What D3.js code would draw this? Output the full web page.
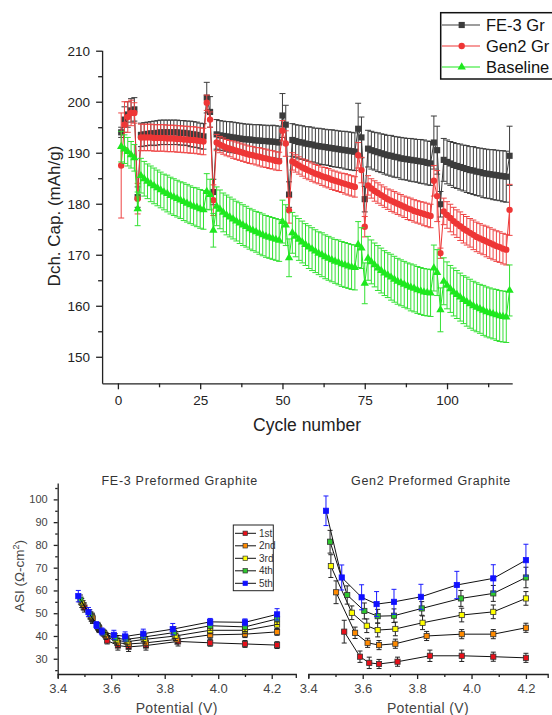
<!DOCTYPE html>
<html>
<head>
<meta charset="utf-8">
<script src="https://cdn.jsdelivr.net/npm/d3@7"></script>
<style>
  body { margin: 0; background: #fff; }
  svg { display: block; font-family: Arial, "Liberation Sans", sans-serif; }
</style>
</head>
<body>
<svg id="chart" width="552" height="715"></svg>
<script>
// ---- top chart: discharge capacity vs cycle ----
var cycles = [1,2,3,4,5,6,7,8,9,10,11,12,13,14,15,16,17,18,19,20,
  21,22,23,24,25,26,27,28,29,30,31,32,33,34,35,36,37,38,39,40,
  41,42,43,44,45,46,47,48,49,50,51,52,53,54,55,56,57,58,59,60,
  61,62,63,64,65,66,67,68,69,70,71,72,73,74,75,76,77,78,79,80,
  81,82,83,84,85,86,87,88,89,90,91,92,93,94,95,96,97,98,99,100,
  101,102,103,104,105,106,107,108,109,110,111,112,113,114,115,116,117,118,119];

var fe3Cap = [194.0,196.5,197.5,198.3,198.5,181.3,
  193.5,193.6,193.7,193.8,193.8,193.9,194.0,194.0,194.0,194.0,194.0,194.0,193.9,193.9,193.8,193.7,193.6,193.5,193.3,193.2,
  200.8,198.0,182.3,
  193.6,193.4,193.3,193.2,193.1,193.0,192.9,192.8,192.7,192.6,192.6,192.5,192.4,192.4,192.3,192.3,192.2,192.2,192.1,192.0,
  197.3,195.5,181.8,
  192.5,192.3,192.1,192.0,191.8,191.7,191.6,191.4,191.3,191.2,191.1,191.0,190.9,190.8,190.7,190.6,190.5,190.4,190.3,190.2,
  194.7,193.0,180.9,
  190.8,190.5,190.3,190.1,189.9,189.7,189.5,189.4,189.2,189.1,188.9,188.8,188.7,188.6,188.5,188.4,188.3,188.2,188.0,187.9,
  192.0,190.5,179.9,
  188.6,188.2,187.9,187.6,187.4,187.2,187.0,186.8,186.6,186.5,186.3,186.2,186.0,185.9,185.8,185.7,185.6,185.5,185.4,185.3,
  189.4];
var fe3Err = [1.0,2.5,2.5,2.3,2.3,2.0,
  2.3,2.3,2.3,2.3,2.4,2.4,2.4,2.4,2.4,2.4,2.4,2.4,2.4,2.4,2.4,2.5,2.5,2.5,2.5,2.5,
  3.0,3.0,2.5,
  2.9,2.9,2.9,2.9,3.0,3.0,3.0,3.0,3.0,3.0,3.0,3.0,3.1,3.1,3.1,3.1,3.1,3.2,3.2,3.2,
  4.3,3.8,2.5,
  3.2,3.2,3.3,3.3,3.3,3.4,3.4,3.4,3.5,3.5,3.5,3.5,3.6,3.6,3.6,3.6,3.7,3.7,3.7,3.7,
  5.0,4.0,2.5,
  3.6,3.7,3.7,3.8,3.8,3.9,3.9,4.0,4.0,4.0,4.1,4.1,4.1,4.2,4.2,4.2,4.3,4.3,4.3,4.3,
  5.2,4.7,2.5,
  4.2,4.3,4.3,4.4,4.4,4.5,4.5,4.6,4.6,4.7,4.7,4.7,4.8,4.8,4.8,4.9,4.9,4.9,5.0,5.0,
  5.8];

var gen2Cap = [187.5,195.5,197.0,197.8,197.8,181.0,
  193.0,193.0,193.0,193.0,192.9,192.9,192.9,192.9,192.8,192.8,192.8,192.7,192.7,192.6,192.6,192.5,192.5,192.4,192.3,192.2,
  199.8,196.5,180.7,
  192.0,191.6,191.3,191.0,190.8,190.6,190.4,190.2,190.0,189.8,189.6,189.5,189.3,189.2,189.0,188.9,188.7,188.6,188.4,188.3,
  194.3,191.8,178.7,
  188.3,187.9,187.5,187.1,186.8,186.5,186.2,185.9,185.7,185.4,185.2,185.0,184.7,184.5,184.3,184.1,183.9,183.7,183.5,183.3,
  189.5,186.6,175.5,
  183.6,183.0,182.5,182.1,181.7,181.3,180.9,180.6,180.3,180.0,179.7,179.4,179.1,178.9,178.6,178.4,178.2,178.0,177.8,177.6,
  184.5,181.5,170.3,
  178.5,177.8,177.2,176.6,176.1,175.6,175.1,174.7,174.3,173.9,173.5,173.2,172.9,172.6,172.3,172.0,171.7,171.5,171.2,171.0,
  178.8];
var gen2Err = [10.3,4.5,3.0,2.5,2.0,3.0,
  2.6,2.6,2.6,2.6,2.6,2.6,2.6,2.6,2.6,2.6,2.6,2.6,2.6,2.6,2.6,2.6,2.6,2.6,2.6,2.6,
  1.5,1.5,3.0,
  1.6,1.6,1.6,1.6,1.6,1.7,1.7,1.7,1.7,1.7,1.7,1.7,1.7,1.8,1.8,1.8,1.8,1.8,1.8,1.8,
  2.0,2.5,2.5,
  1.7,1.7,1.7,1.7,1.8,1.8,1.8,1.8,1.8,1.8,1.9,1.9,1.9,1.9,1.9,1.9,2.0,2.0,2.0,2.0,
  2.5,2.5,2.0,
  1.9,1.9,2.0,2.0,2.0,2.0,2.0,2.1,2.1,2.1,2.1,2.1,2.2,2.2,2.2,2.2,2.2,2.3,2.3,2.3,
  3.0,5.0,1.0,
  2.6,2.6,2.7,2.7,2.7,2.8,2.8,2.8,2.8,2.9,2.9,2.9,2.9,3.0,3.0,3.0,3.0,3.0,3.0,3.0,
  5.0];

var baseCap = [191.2,190.7,190.2,189.6,189.0,179.0,
  185.5,184.9,184.4,183.9,183.5,183.1,182.7,182.3,182.0,181.6,181.3,181.0,180.7,180.4,180.1,179.8,179.5,179.3,179.0,178.8,
  182.4,181.8,174.8,
  179.5,178.9,178.3,177.8,177.4,177.0,176.6,176.2,175.8,175.5,175.1,174.8,174.5,174.2,173.9,173.6,173.4,173.2,173.0,172.8,
  176.5,175.8,169.4,
  174.3,173.6,173.0,172.5,172.0,171.5,171.1,170.7,170.3,170.0,169.6,169.3,169.0,168.7,168.5,168.2,168.0,167.8,167.6,167.5,
  172.0,171.3,164.4,
  169.3,168.6,168.0,167.4,166.9,166.4,166.0,165.6,165.2,164.8,164.5,164.2,163.9,163.6,163.4,163.1,162.9,162.7,162.6,162.5,
  167.4,166.5,159.2,
  164.8,164.0,163.3,162.7,162.2,161.7,161.2,160.8,160.4,160.0,159.7,159.4,159.1,158.8,158.6,158.4,158.2,158.0,157.9,157.8,
  163.0];
var baseErr = [3.0,2.8,2.8,2.6,2.6,3.3,
  3.4,3.4,3.4,3.5,3.5,3.5,3.5,3.5,3.6,3.6,3.6,3.6,3.6,3.7,3.7,3.7,3.7,3.8,3.8,3.8,
  3.5,3.0,3.3,
  3.8,3.8,3.8,3.9,3.9,3.9,3.9,4.0,4.0,4.0,4.0,4.0,4.0,4.1,4.1,4.1,4.1,4.1,4.1,4.1,
  4.2,4.0,3.7,
  4.0,4.0,4.1,4.1,4.1,4.2,4.2,4.2,4.2,4.3,4.3,4.3,4.3,4.3,4.4,4.4,4.4,4.4,4.4,4.4,
  4.5,4.0,4.0,
  4.3,4.3,4.3,4.4,4.4,4.4,4.4,4.5,4.5,4.5,4.5,4.5,4.5,4.6,4.6,4.6,4.6,4.6,4.6,4.6,
  4.5,4.5,4.3,
  4.6,4.6,4.6,4.7,4.7,4.7,4.7,4.8,4.8,4.8,4.8,4.8,4.9,4.9,4.9,4.9,5.0,5.0,5.0,5.0,
  5.0];

var topNames = ["FE-3 Gr", "Gen2 Gr", "Baseline"];
var cycleTicks = [0, 25, 50, 75, 100];
var capTicks = [150, 160, 170, 180, 190, 200, 210];

// ---- bottom charts: ASI vs potential ----
var cycleLabels = ["1st", "2nd", "3rd", "4th", "5th"];

var fe3V1 = [3.50,3.53,3.555,3.585,3.625,3.665,3.73,3.85,3.97,4.10,4.22];
var fe3A1 = [52.5,47.5,43.0,38.0,35.8,35.2,35.8,37.6,37.0,36.5,36.0];
var fe3E1 = [2.0,2.0,1.5,1.5,2.0,2.0,2.0,2.0,1.5,1.5,1.5];
var fe3V2 = [3.495,3.53,3.555,3.58,3.625,3.665,3.73,3.845,3.97,4.10,4.22];
var fe3A2 = [53.5,48.0,43.5,40.0,37.0,36.5,37.0,38.5,40.5,40.8,41.8];
var fe3E2 = [2.0,2.0,1.5,1.5,2.0,2.0,2.0,2.0,1.5,1.5,1.5];
var fe3V3 = [3.49,3.525,3.55,3.575,3.62,3.66,3.725,3.84,3.97,4.10,4.22];
var fe3A3 = [54.5,48.5,44.0,41.0,38.0,37.5,38.5,40.0,42.5,42.5,45.0];
var fe3E3 = [2.0,2.0,1.5,1.5,2.0,2.0,2.0,2.0,1.5,1.5,2.0];
var fe3V4 = [3.485,3.52,3.55,3.57,3.615,3.655,3.72,3.835,3.97,4.10,4.22];
var fe3A4 = [56.0,49.5,44.5,41.5,39.0,38.5,39.5,41.5,44.5,44.0,47.5];
var fe3E4 = [2.0,2.0,1.5,1.5,2.0,2.0,2.0,2.5,2.0,2.0,2.5];
var fe3V5 = [3.477,3.515,3.545,3.565,3.61,3.652,3.72,3.83,3.97,4.10,4.22];
var fe3A5 = [57.5,50.5,44.8,42.0,40.5,39.8,41.0,43.0,46.2,46.0,49.5];
var fe3E5 = [2.5,2.0,1.5,1.5,2.0,2.0,2.0,2.5,1.5,1.5,2.5];

var gen2V1 = [3.532,3.59,3.624,3.66,3.728,3.847,3.964,4.08,4.20];
var gen2A1 = [41.9,30.9,28.2,27.7,28.7,31.3,31.3,30.9,30.4];
var gen2E1 = [5.0,2.5,2.5,2.0,2.0,2.5,2.5,2.0,2.0];
var gen2V2 = [3.502,3.572,3.618,3.66,3.72,3.835,3.964,4.08,4.20];
var gen2A2 = [59.2,41.4,37.0,36.0,36.6,40.0,40.8,40.8,43.6];
var gen2E2 = [5.0,2.5,2.0,2.0,2.0,2.0,2.0,2.0,2.0];
var gen2V3 = [3.483,3.56,3.615,3.655,3.72,3.82,3.964,4.08,4.20];
var gen2A3 = [70.7,50.2,44.5,42.6,43.1,45.8,49.2,50.6,56.5];
var gen2E3 = [5.0,3.0,3.0,3.0,3.0,3.0,3.0,3.0,3.0];
var gen2V4 = [3.48,3.543,3.606,3.655,3.715,3.817,3.961,4.08,4.20];
var gen2A4 = [81.4,58.0,51.0,48.7,48.9,52.1,56.5,58.7,65.7];
var gen2E4 = [5.0,4.0,3.5,3.0,3.0,3.0,3.5,3.5,4.5];
var gen2V5 = [3.465,3.523,3.596,3.651,3.715,3.814,3.946,4.08,4.20];
var gen2A5 = [95.0,65.7,57.0,54.0,55.0,57.2,62.4,65.3,73.3];
var gen2E5 = [6.5,5.5,5.5,5.5,5.5,5.5,6.0,6.0,7.0];

var potTicks = [3.4, 3.6, 3.8, 4.0, 4.2];
var potMinor = [3.5, 3.7, 3.9, 4.1];
var asiTicks = [30, 40, 50, 60, 70, 80, 90, 100];
var asiMinor = [25, 35, 45, 55, 65, 75, 85, 95, 105];

var FONT = "Arial, 'Liberation Sans', sans-serif";
var svg = d3.select("#chart");

function styleAxis(g, size, color)
{
    g.attr("font-size", size).attr("font-family", FONT);
    g.selectAll("path, line").attr("stroke", "#222").attr("stroke-width", 1.3);
    g.selectAll("text").attr("fill", color);
}

// ===================== top chart =====================
var xTop = d3.scaleLinear().domain([-4.8, 119.8]).range([102.1, 512.2]);
var yTop = d3.scaleLinear().domain([144.8, 210.1]).range([383.3, 50.2]);

var gx = svg.append("g").attr("transform", "translate(0,383.3)")
    .call(d3.axisBottom(xTop).tickValues(cycleTicks).tickSize(6).tickSizeOuter(0).tickPadding(6));
styleAxis(gx, 13.5, "#222");
var gxm = svg.append("g").attr("transform", "translate(0,383.3)")
    .call(d3.axisBottom(xTop).tickValues([12.5, 37.5, 62.5, 87.5, 112.5]).tickSize(4).tickFormat(""));
gxm.select(".domain").remove();
styleAxis(gxm, 10, "#222");

var gy = svg.append("g").attr("transform", "translate(102.1,0)")
    .call(d3.axisLeft(yTop).tickValues(capTicks).tickSize(6).tickSizeOuter(0).tickPadding(6));
styleAxis(gy, 13.5, "#222");
var gym = svg.append("g").attr("transform", "translate(102.1,0)")
    .call(d3.axisLeft(yTop).tickValues([155, 165, 175, 185, 195, 205]).tickSize(4).tickFormat(""));
gym.select(".domain").remove();
styleAxis(gym, 10, "#222");

svg.append("text").attr("x", 307).attr("y", 431).attr("text-anchor", "middle")
    .attr("font-size", 17.5).attr("fill", "#222").text("Cycle number");
svg.append("text").attr("transform", "translate(60,216) rotate(-90)").attr("text-anchor", "middle")
    .attr("font-size", 17).attr("fill", "#222").text("Dch. Cap. (mAh/g)");

var topSeries = [
    {name: topNames[0], values: fe3Cap, err: fe3Err, color: "#3c3c3c", bar: "#3c3c3c", shape: d3.symbolSquare, size: 38},
    {name: topNames[1], values: gen2Cap, err: gen2Err, color: "#ee3636", bar: "#ee4444", shape: d3.symbolCircle, size: 32},
    {name: topNames[2], values: baseCap, err: baseErr, color: "#1ee81e", bar: "#33e033", shape: d3.symbolTriangle, size: 30}
];

topSeries.forEach(function(s) {
    var pts = cycles.map(function(c, i) { return {x: c, y: s.values[i], e: s.err[i]}; });
    var g = svg.append("g");
    g.append("path").datum(pts)
        .attr("fill", "none").attr("stroke", s.color).attr("stroke-width", 1)
        .attr("d", d3.line().x(function(d){ return xTop(d.x); }).y(function(d){ return yTop(d.y); }));
    var eb = g.selectAll(".eb").data(pts).enter().append("g").attr("stroke", s.bar).attr("stroke-width", 1);
    eb.append("line")
        .attr("x1", function(d){ return xTop(d.x); }).attr("x2", function(d){ return xTop(d.x); })
        .attr("y1", function(d){ return yTop(d.y - d.e); }).attr("y2", function(d){ return yTop(d.y + d.e); });
    eb.append("line")
        .attr("x1", function(d){ return xTop(d.x) - 3; }).attr("x2", function(d){ return xTop(d.x) + 3; })
        .attr("y1", function(d){ return yTop(d.y + d.e); }).attr("y2", function(d){ return yTop(d.y + d.e); });
    eb.append("line")
        .attr("x1", function(d){ return xTop(d.x) - 3; }).attr("x2", function(d){ return xTop(d.x) + 3; })
        .attr("y1", function(d){ return yTop(d.y - d.e); }).attr("y2", function(d){ return yTop(d.y - d.e); });
    g.selectAll(".pt").data(pts).enter().append("path")
        .attr("transform", function(d){ return "translate(" + xTop(d.x) + "," + yTop(d.y) + ")"; })
        .attr("d", d3.symbol().type(s.shape).size(s.size))
        .attr("fill", s.color);
});

// legend (box runs off the right edge)
var lg = svg.append("g");
lg.append("rect").attr("x", 440.7).attr("y", 12.7).attr("width", 140).attr("height", 66.3)
    .attr("fill", "#fff").attr("stroke", "#111").attr("stroke-width", 1.5);
topSeries.forEach(function(s, i) {
    var yy = 25 + i * 21;
    lg.append("line").attr("x1", 442).attr("x2", 480).attr("y1", yy).attr("y2", yy)
        .attr("stroke", s.color).attr("stroke-width", 1.2);
    lg.append("path").attr("transform", "translate(461.7," + yy + ")")
        .attr("d", d3.symbol().type(s.shape).size(s.size)).attr("fill", s.color);
    lg.append("text").attr("x", 486).attr("y", yy + 6).attr("font-size", 16.5).attr("fill", "#111").text(s.name);
});

// ===================== bottom charts =====================
var yB = d3.scaleLinear().domain([23.3, 107.2]).range([674, 483]);
var xL = d3.scaleLinear().domain([3.4, 4.29]).range([57.7, 295.8]);
var xR = d3.scaleLinear().domain([3.4, 4.28]).range([308.3, 547.7]);

var asiColors = ["#e8101a", "#ff8a00", "#ffff00", "#2ec82e", "#1010ff"];

var fe3Series = [
    {v: fe3V1, a: fe3A1, e: fe3E1}, {v: fe3V2, a: fe3A2, e: fe3E2}, {v: fe3V3, a: fe3A3, e: fe3E3},
    {v: fe3V4, a: fe3A4, e: fe3E4}, {v: fe3V5, a: fe3A5, e: fe3E5}
];
var gen2Series = [
    {v: gen2V1, a: gen2A1, e: gen2E1}, {v: gen2V2, a: gen2A2, e: gen2E2}, {v: gen2V3, a: gen2A3, e: gen2E3},
    {v: gen2V4, a: gen2A4, e: gen2E4}, {v: gen2V5, a: gen2A5, e: gen2E5}
];

function drawPanel(x, series, title, showY)
{
    var x0 = x.range()[0], x1 = x.range()[1], cx = (x0 + x1) / 2;
    var ax = svg.append("g").attr("transform", "translate(0,674)")
        .call(d3.axisBottom(x).tickValues(potTicks).tickSize(5).tickSizeOuter(4).tickPadding(5)
            .tickFormat(d3.format(".1f")));
    styleAxis(ax, 13, "#444");
    var axm = svg.append("g").attr("transform", "translate(0,674)")
        .call(d3.axisBottom(x).tickValues(potMinor).tickSize(3).tickFormat(""));
    axm.select(".domain").remove();
    styleAxis(axm, 10, "#444");

    if (showY) {
        var ay = svg.append("g").attr("transform", "translate(" + x0 + ",0)")
            .call(d3.axisLeft(yB).tickValues(asiTicks).tickSize(4).tickSizeOuter(0).tickPadding(6));
        styleAxis(ay, 11, "#444");
        var aym = svg.append("g").attr("transform", "translate(" + x0 + ",0)")
            .call(d3.axisLeft(yB).tickValues(asiMinor).tickSize(2.5).tickFormat(""));
        aym.select(".domain").remove();
        styleAxis(aym, 10, "#444");
    }

    svg.append("text").attr("x", cx + 3).attr("y", 485).attr("text-anchor", "middle")
        .attr("font-size", 12.5).attr("letter-spacing", 0.7).attr("fill", "#333").text(title);
    svg.append("text").attr("x", cx).attr("y", 713).attr("text-anchor", "middle")
        .attr("font-size", 14).attr("letter-spacing", 0.4).attr("fill", "#444").text("Potential (V)");

    series.forEach(function(s, k) {
        var pts = s.v.map(function(v, i) { return {x: v, y: s.a[i], e: s.e[i]}; });
        var g = svg.append("g");
        var barColor = k === 4 ? "#1a1aff" : "#222";
        g.append("path").datum(pts)
            .attr("fill", "none").attr("stroke", "#111").attr("stroke-width", 1)
            .attr("d", d3.line().x(function(d){ return x(d.x); }).y(function(d){ return yB(d.y); }));
        var eb = g.selectAll(".eb").data(pts).enter().append("g").attr("stroke", barColor).attr("stroke-width", 1);
        eb.append("line")
            .attr("x1", function(d){ return x(d.x); }).attr("x2", function(d){ return x(d.x); })
            .attr("y1", function(d){ return yB(d.y - d.e); }).attr("y2", function(d){ return yB(d.y + d.e); });
        [1, -1].forEach(function(sg) {
            eb.append("line")
                .attr("x1", function(d){ return x(d.x) - 2.5; }).attr("x2", function(d){ return x(d.x) + 2.5; })
                .attr("y1", function(d){ return yB(d.y + sg * d.e); }).attr("y2", function(d){ return yB(d.y + sg * d.e); });
        });
        g.selectAll(".pt").data(pts).enter().append("rect")
            .attr("x", function(d){ return x(d.x) - 2.6; }).attr("y", function(d){ return yB(d.y) - 2.6; })
            .attr("width", 5.2).attr("height", 5.2)
            .attr("fill", asiColors[k]).attr("stroke", k === 4 ? asiColors[k] : "#333").attr("stroke-width", 0.8);
    });
}

drawPanel(xL, fe3Series, "FE-3 Preformed Graphite", true);
drawPanel(xR, gen2Series, "Gen2 Preformed Graphite", false);

// y label for the bottom charts
var yl = svg.append("text").attr("transform", "translate(24,576) rotate(-90)").attr("text-anchor", "middle")
    .attr("font-size", 13.5).attr("fill", "#444");
yl.append("tspan").text("ASI (\u03A9-cm");
yl.append("tspan").attr("font-size", 9).attr("dy", -5).text("2");
yl.append("tspan").attr("dy", 5).text(")");

// legend in FE-3 panel
var lg2 = svg.append("g");
lg2.append("rect").attr("x", 233.3).attr("y", 525).attr("width", 40).attr("height", 65.7)
    .attr("fill", "#fff").attr("stroke", "#222").attr("stroke-width", 1);
cycleLabels.forEach(function(name, i) {
    var yy = 533.3 + i * 12.5;
    lg2.append("line").attr("x1", 235).attr("x2", 256).attr("y1", yy).attr("y2", yy)
        .attr("stroke", "#111").attr("stroke-width", 1);
    lg2.append("rect").attr("x", 243).attr("y", yy - 2.2).attr("width", 4.4).attr("height", 4.4)
        .attr("fill", asiColors[i]).attr("stroke", i === 4 ? asiColors[i] : "#333").attr("stroke-width", 0.7);
    lg2.append("text").attr("x", 259).attr("y", yy + 3.5).attr("font-size", 10).attr("fill", "#333").text(name);
});
</script>
</body>
</html>
